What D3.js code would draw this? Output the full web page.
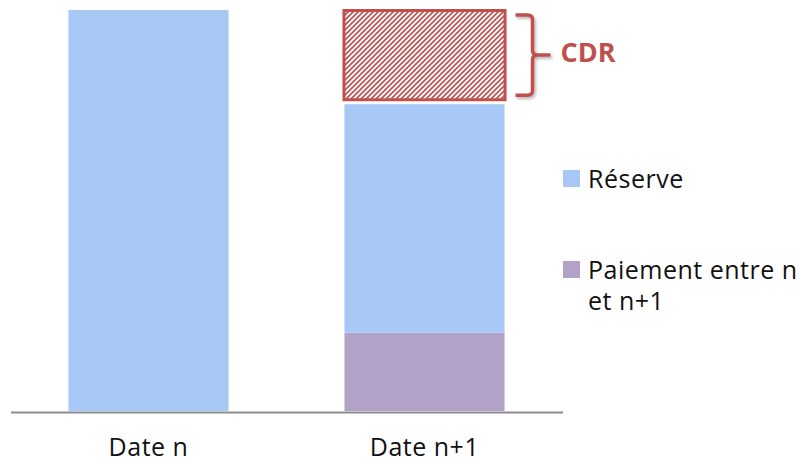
<!DOCTYPE html>
<html>
<head>
<meta charset="utf-8">
<script src="https://cdn.jsdelivr.net/npm/d3@7/dist/d3.min.js"></script>
<style>
  html, body { margin: 0; padding: 0; background: #fff; }
  svg { display: block; }
  text { font-family: "Open Sans", "DejaVu Sans", sans-serif; }
</style>
</head>
<body>
<svg id="chart" width="803" height="464"></svg>
<script>
// Categories and stacked values (in % of the reserve at date n)
const categories = ["Date n", "Date n+1"];
const paiement = [0, 19.5];   // payments between n and n+1
const reserve  = [100, 57];   // reserve
const cdr      = [0, 23.5];   // CDR (hatched)
const legendLabels = ["Réserve", ["Paiement entre n", "et n+1"]];
const annotationLabel = "CDR";

const colors = { reserve: "#a7c7f5", paiement: "#b3a2c7", cdr: "#c0504d", axis: "#8c8c8c" };

const svg = d3.select("#chart");

const x = d3.scaleBand()
  .domain(categories)
  .range([10.5, 562.5])
  .paddingInner(0.42)
  .paddingOuter(0.21);

const y = d3.scaleLinear().domain([0, 100]).range([411, 10]);

// Hatch pattern for CDR
const defs = svg.append("defs");
const pat = defs.append("pattern")
  .attr("id", "hatch")
  .attr("patternUnits", "userSpaceOnUse")
  .attr("width", 5).attr("height", 5);
pat.append("rect").attr("width", 5).attr("height", 5).attr("fill", "#fff");
pat.append("path")
  .attr("d", "M-1,1 L1,-1 M0,5 L5,0 M4,6 L6,4")
  .attr("stroke", colors.cdr)
  .attr("stroke-width", 1.6);

const shadow = defs.append("filter").attr("id", "shadow")
  .attr("x", "-30%").attr("y", "-30%").attr("width", "160%").attr("height", "160%");
shadow.append("feDropShadow")
  .attr("dx", 1.5).attr("dy", 2).attr("stdDeviation", 1.5)
  .attr("flood-color", "#000").attr("flood-opacity", 0.3);

// Build stacked rows
const rows = categories.map((c, i) => ({ cat: c, paiement: paiement[i], reserve: reserve[i], cdr: cdr[i] }));
const stack = d3.stack().keys(["paiement", "reserve", "cdr"])(rows);

const g = svg.append("g");

// Solid segments
stack.filter(s => s.key !== "cdr").forEach(s => {
  g.selectAll(null)
    .data(s.filter(d => d[1] - d[0] > 0))
    .join("rect")
    .attr("x", d => x(d.data.cat))
    .attr("width", x.bandwidth())
    .attr("y", d => y(d[1]))
    .attr("height", d => y(d[0]) - y(d[1]))
    .attr("fill", colors[s.key]);
});

// Hatched CDR segment with outline
const cdrSeries = stack.find(s => s.key === "cdr").filter(d => d[1] - d[0] > 0);
g.selectAll(null)
  .data(cdrSeries)
  .join("rect")
  .attr("x", d => x(d.data.cat) - 0.5)
  .attr("width", x.bandwidth() + 1)
  .attr("y", d => y(d[1]) + 0.5)
  .attr("height", d => y(d[0]) - y(d[1]) - 5)
  .attr("fill", "url(#hatch)")
  .attr("stroke", colors.cdr)
  .attr("stroke-width", 3);

// Brace beside the CDR segment
cdrSeries.forEach(d => {
  const x0 = x(d.data.cat) + x.bandwidth() + 11;
  const top = y(d[1]) + 5, bot = y(d[0]) - 9, mid = (top + bot) / 2;
  const xv = x0 + 17, r = 5, tip = x0 + 35;
  const path = `M${x0},${top} H${xv - r} Q${xv},${top} ${xv},${top + r} V${mid - r} Q${xv},${mid} ${xv + r},${mid} H${tip}`
    + ` M${xv + r},${mid} Q${xv},${mid} ${xv},${mid + r} V${bot - r} Q${xv},${bot} ${xv - r},${bot} H${x0}`;
  svg.append("path")
    .attr("d", path)
    .attr("fill", "none")
    .attr("stroke", colors.cdr)
    .attr("stroke-width", 3.5)
    .attr("filter", "url(#shadow)");
  svg.append("text")
    .attr("x", tip + 10)
    .attr("y", mid + 7)
    .attr("font-size", 27)
    .attr("font-weight", 700)
    .attr("fill", colors.cdr)
    .text(annotationLabel);
});

// Category axis
const axis = svg.append("g")
  .attr("transform", `translate(0,${y(0) + 1})`)
  .call(d3.axisBottom(x).tickSize(0).tickPadding(0));
axis.select(".domain").attr("stroke", colors.axis).attr("stroke-width", 2);
axis.selectAll("text")
  .attr("y", 44)
  .attr("dy", 0)
  .attr("font-family", "'Open Sans', sans-serif")
  .attr("font-size", 25)
  .attr("letter-spacing", 0.5)
  .attr("fill", "#111");

// Legend
const legend = svg.append("g").attr("transform", "translate(563,0)");
const items = [
  { key: "reserve", y: 170, lines: [legendLabels[0]] },
  { key: "paiement", y: 261, lines: legendLabels[1] }
];
items.forEach(it => {
  legend.append("rect")
    .attr("x", 0).attr("y", it.y)
    .attr("width", 17).attr("height", 17)
    .attr("fill", colors[it.key]);
  const t = legend.append("text")
    .attr("x", 25).attr("y", it.y + 18)
    .attr("font-size", 25)
    .attr("letter-spacing", 0.5)
    .attr("fill", "#111");
  it.lines.forEach((l, i) => {
    t.append("tspan").attr("x", 25).attr("dy", i === 0 ? 0 : 31).text(l);
  });
});
</script>
</body>
</html>
